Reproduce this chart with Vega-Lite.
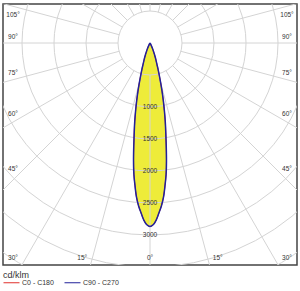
{
  "$schema": "https://vega.github.io/schema/vega-lite/v6.json",
  "width": 294,
  "height": 261,
  "autosize": {"type": "none"},
  "padding": {"left": 3, "top": 4, "right": 3, "bottom": 26},
  "background": "white",
  "config": {"view": {"stroke": "#444444", "strokeWidth": 1.5}, "font": "Liberation Sans"},
  "datasets": {
    "beam": [
      {"plane": "C0 - C180", "gamma": -90, "I": 0}, {"plane": "C0 - C180", "gamma": -60, "I": 0}, {"plane": "C0 - C180", "gamma": -40, "I": 0},
      {"plane": "C0 - C180", "gamma": -35, "I": 5}, {"plane": "C0 - C180", "gamma": -30, "I": 20}, {"plane": "C0 - C180", "gamma": -25, "I": 80},
      {"plane": "C0 - C180", "gamma": -24, "I": 106}, {"plane": "C0 - C180", "gamma": -23, "I": 134}, {"plane": "C0 - C180", "gamma": -22, "I": 162},
      {"plane": "C0 - C180", "gamma": -21, "I": 204}, {"plane": "C0 - C180", "gamma": -20, "I": 250}, {"plane": "C0 - C180", "gamma": -19, "I": 295},
      {"plane": "C0 - C180", "gamma": -18, "I": 351}, {"plane": "C0 - C180", "gamma": -17, "I": 435}, {"plane": "C0 - C180", "gamma": -16, "I": 529},
      {"plane": "C0 - C180", "gamma": -15, "I": 645}, {"plane": "C0 - C180", "gamma": -14, "I": 780}, {"plane": "C0 - C180", "gamma": -13, "I": 927},
      {"plane": "C0 - C180", "gamma": -12, "I": 1082}, {"plane": "C0 - C180", "gamma": -11, "I": 1250}, {"plane": "C0 - C180", "gamma": -10, "I": 1420},
      {"plane": "C0 - C180", "gamma": -9, "I": 1620}, {"plane": "C0 - C180", "gamma": -8, "I": 1849}, {"plane": "C0 - C180", "gamma": -7, "I": 2066},
      {"plane": "C0 - C180", "gamma": -6, "I": 2242}, {"plane": "C0 - C180", "gamma": -5, "I": 2419}, {"plane": "C0 - C180", "gamma": -4, "I": 2553},
      {"plane": "C0 - C180", "gamma": -3, "I": 2660}, {"plane": "C0 - C180", "gamma": -2, "I": 2769}, {"plane": "C0 - C180", "gamma": -1, "I": 2841},
      {"plane": "C0 - C180", "gamma": 0, "I": 2867},
      {"plane": "C0 - C180", "gamma": 1, "I": 2841}, {"plane": "C0 - C180", "gamma": 2, "I": 2769}, {"plane": "C0 - C180", "gamma": 3, "I": 2660},
      {"plane": "C0 - C180", "gamma": 4, "I": 2553}, {"plane": "C0 - C180", "gamma": 5, "I": 2419}, {"plane": "C0 - C180", "gamma": 6, "I": 2242},
      {"plane": "C0 - C180", "gamma": 7, "I": 2066}, {"plane": "C0 - C180", "gamma": 8, "I": 1849}, {"plane": "C0 - C180", "gamma": 9, "I": 1620},
      {"plane": "C0 - C180", "gamma": 10, "I": 1420}, {"plane": "C0 - C180", "gamma": 11, "I": 1250}, {"plane": "C0 - C180", "gamma": 12, "I": 1082},
      {"plane": "C0 - C180", "gamma": 13, "I": 927}, {"plane": "C0 - C180", "gamma": 14, "I": 780}, {"plane": "C0 - C180", "gamma": 15, "I": 645},
      {"plane": "C0 - C180", "gamma": 16, "I": 529}, {"plane": "C0 - C180", "gamma": 17, "I": 435}, {"plane": "C0 - C180", "gamma": 18, "I": 351},
      {"plane": "C0 - C180", "gamma": 19, "I": 295}, {"plane": "C0 - C180", "gamma": 20, "I": 250}, {"plane": "C0 - C180", "gamma": 21, "I": 204},
      {"plane": "C0 - C180", "gamma": 22, "I": 162}, {"plane": "C0 - C180", "gamma": 23, "I": 134}, {"plane": "C0 - C180", "gamma": 24, "I": 106},
      {"plane": "C0 - C180", "gamma": 25, "I": 80}, {"plane": "C0 - C180", "gamma": 30, "I": 20}, {"plane": "C0 - C180", "gamma": 35, "I": 5},
      {"plane": "C0 - C180", "gamma": 40, "I": 0}, {"plane": "C0 - C180", "gamma": 60, "I": 0}, {"plane": "C0 - C180", "gamma": 90, "I": 0},
      {"plane": "C90 - C270", "gamma": -90, "I": 0}, {"plane": "C90 - C270", "gamma": -60, "I": 0}, {"plane": "C90 - C270", "gamma": -40, "I": 0},
      {"plane": "C90 - C270", "gamma": -35, "I": 5}, {"plane": "C90 - C270", "gamma": -30, "I": 20}, {"plane": "C90 - C270", "gamma": -25, "I": 80},
      {"plane": "C90 - C270", "gamma": -24, "I": 106}, {"plane": "C90 - C270", "gamma": -23, "I": 134}, {"plane": "C90 - C270", "gamma": -22, "I": 162},
      {"plane": "C90 - C270", "gamma": -21, "I": 204}, {"plane": "C90 - C270", "gamma": -20, "I": 250}, {"plane": "C90 - C270", "gamma": -19, "I": 295},
      {"plane": "C90 - C270", "gamma": -18, "I": 351}, {"plane": "C90 - C270", "gamma": -17, "I": 435}, {"plane": "C90 - C270", "gamma": -16, "I": 529},
      {"plane": "C90 - C270", "gamma": -15, "I": 645}, {"plane": "C90 - C270", "gamma": -14, "I": 780}, {"plane": "C90 - C270", "gamma": -13, "I": 927},
      {"plane": "C90 - C270", "gamma": -12, "I": 1082}, {"plane": "C90 - C270", "gamma": -11, "I": 1250}, {"plane": "C90 - C270", "gamma": -10, "I": 1420},
      {"plane": "C90 - C270", "gamma": -9, "I": 1620}, {"plane": "C90 - C270", "gamma": -8, "I": 1849}, {"plane": "C90 - C270", "gamma": -7, "I": 2066},
      {"plane": "C90 - C270", "gamma": -6, "I": 2242}, {"plane": "C90 - C270", "gamma": -5, "I": 2419}, {"plane": "C90 - C270", "gamma": -4, "I": 2553},
      {"plane": "C90 - C270", "gamma": -3, "I": 2660}, {"plane": "C90 - C270", "gamma": -2, "I": 2769}, {"plane": "C90 - C270", "gamma": -1, "I": 2841},
      {"plane": "C90 - C270", "gamma": 0, "I": 2867},
      {"plane": "C90 - C270", "gamma": 1, "I": 2841}, {"plane": "C90 - C270", "gamma": 2, "I": 2769}, {"plane": "C90 - C270", "gamma": 3, "I": 2660},
      {"plane": "C90 - C270", "gamma": 4, "I": 2553}, {"plane": "C90 - C270", "gamma": 5, "I": 2419}, {"plane": "C90 - C270", "gamma": 6, "I": 2242},
      {"plane": "C90 - C270", "gamma": 7, "I": 2066}, {"plane": "C90 - C270", "gamma": 8, "I": 1849}, {"plane": "C90 - C270", "gamma": 9, "I": 1620},
      {"plane": "C90 - C270", "gamma": 10, "I": 1420}, {"plane": "C90 - C270", "gamma": 11, "I": 1250}, {"plane": "C90 - C270", "gamma": 12, "I": 1082},
      {"plane": "C90 - C270", "gamma": 13, "I": 927}, {"plane": "C90 - C270", "gamma": 14, "I": 780}, {"plane": "C90 - C270", "gamma": 15, "I": 645},
      {"plane": "C90 - C270", "gamma": 16, "I": 529}, {"plane": "C90 - C270", "gamma": 17, "I": 435}, {"plane": "C90 - C270", "gamma": 18, "I": 351},
      {"plane": "C90 - C270", "gamma": 19, "I": 295}, {"plane": "C90 - C270", "gamma": 20, "I": 250}, {"plane": "C90 - C270", "gamma": 21, "I": 204},
      {"plane": "C90 - C270", "gamma": 22, "I": 162}, {"plane": "C90 - C270", "gamma": 23, "I": 134}, {"plane": "C90 - C270", "gamma": 24, "I": 106},
      {"plane": "C90 - C270", "gamma": 25, "I": 80}, {"plane": "C90 - C270", "gamma": 30, "I": 20}, {"plane": "C90 - C270", "gamma": 35, "I": 5},
      {"plane": "C90 - C270", "gamma": 40, "I": 0}, {"plane": "C90 - C270", "gamma": 60, "I": 0}, {"plane": "C90 - C270", "gamma": 90, "I": 0}
    ],
    "circles": [{"r": 500}, {"r": 1000}, {"r": 1500}, {"r": 2000}, {"r": 2500}, {"r": 3000}, {"r": 3500}, {"r": 4000}],
    "spokes": [{"a": 0}, {"a": 15}, {"a": 30}, {"a": 45}, {"a": 60}, {"a": 75}, {"a": 90}, {"a": 105}, {"a": 120}, {"a": 135}, {"a": 150}, {"a": 165},
      {"a": 180}, {"a": 195}, {"a": 210}, {"a": 225}, {"a": 240}, {"a": 255}, {"a": 270}, {"a": 285}, {"a": 300}, {"a": 315}, {"a": 330}, {"a": 345}],
    "rlabels": [{"r": 1000}, {"r": 1500}, {"r": 2000}, {"r": 2500}, {"r": 3000}],
    "alabels": [
      {"a": 0, "s": 0, "label": "0°"},
      {"a": 15, "s": -1, "label": "15°"}, {"a": 15, "s": 1, "label": "15°"},
      {"a": 30, "s": -1, "label": "30°"}, {"a": 30, "s": 1, "label": "30°"},
      {"a": 45, "s": -1, "label": "45°"}, {"a": 45, "s": 1, "label": "45°"},
      {"a": 60, "s": -1, "label": "60°"}, {"a": 60, "s": 1, "label": "60°"},
      {"a": 75, "s": -1, "label": "75°"}, {"a": 75, "s": 1, "label": "75°"},
      {"a": 90, "s": -1, "label": "90°"}, {"a": 90, "s": 1, "label": "90°"},
      {"a": 105, "s": -1, "label": "105°"}, {"a": 105, "s": 1, "label": "105°"}
    ]
  },
  "layer": [
    {
      "data": {"name": "beam"},
      "transform": [
        {"filter": "datum.plane === 'C90 - C270' && datum.gamma >= 0"},
        {"calculate": "datum.I * sin(datum.gamma * PI / 180)", "as": "x"},
        {"calculate": "-datum.x", "as": "xn"},
        {"calculate": "-datum.I * cos(datum.gamma * PI / 180)", "as": "y"}
      ],
      "mark": {"type": "area", "orient": "horizontal", "color": "#eeec3a", "opacity": 1, "interpolate": "monotone"},
      "encoding": {
        "x": {"field": "x", "type": "quantitative", "scale": {"domain": [-2296.875, 2296.875], "nice": false, "zero": false}, "axis": null},
        "x2": {"field": "xn"},
        "y": {"field": "y", "type": "quantitative", "scale": {"domain": [-3468.75, 609.375], "nice": false, "zero": false}, "axis": null}
      }
    },
    {
      "data": {"name": "circles"},
      "transform": [{"calculate": "0", "as": "cx"}, {"calculate": "0", "as": "cy"}],
      "mark": {"type": "point", "shape": "circle", "filled": false, "stroke": "#d4d4d4", "strokeWidth": 1, "opacity": 1, "clip": true},
      "encoding": {
        "x": {"field": "cx", "type": "quantitative", "scale": {"domain": [-2296.875, 2296.875], "nice": false, "zero": false}, "axis": null},
        "y": {"field": "cy", "type": "quantitative", "scale": {"domain": [-3468.75, 609.375], "nice": false, "zero": false}, "axis": null},
        "size": {"field": "r", "type": "quantitative", "scale": {"type": "pow", "exponent": 2, "domain": [0, 4000], "range": [0, 262144], "zero": true}, "legend": null}
      }
    },
    {
      "data": {"name": "spokes"},
      "transform": [
        {"calculate": "500 * sin(datum.a * PI / 180)", "as": "x1"},
        {"calculate": "-500 * cos(datum.a * PI / 180)", "as": "y1"},
        {"calculate": "6000 * sin(datum.a * PI / 180)", "as": "x2"},
        {"calculate": "-6000 * cos(datum.a * PI / 180)", "as": "y2"}
      ],
      "mark": {"type": "rule", "color": "#d4d4d4", "strokeWidth": 1, "clip": true},
      "encoding": {
        "x": {"field": "x1", "type": "quantitative", "scale": {"domain": [-2296.875, 2296.875], "nice": false, "zero": false}, "axis": null},
        "y": {"field": "y1", "type": "quantitative", "scale": {"domain": [-3468.75, 609.375], "nice": false, "zero": false}, "axis": null},
        "x2": {"field": "x2"},
        "y2": {"field": "y2"}
      }
    },
    {
      "data": {"name": "beam"},
      "transform": [
        {"filter": "datum.plane === 'C0 - C180'"},
        {"calculate": "datum.I * sin(datum.gamma * PI / 180)", "as": "x"},
        {"calculate": "-datum.I * cos(datum.gamma * PI / 180)", "as": "y"}
      ],
      "mark": {"type": "line", "strokeWidth": 1, "interpolate": "catmull-rom"},
      "encoding": {
        "x": {"field": "x", "type": "quantitative", "scale": {"domain": [-2296.875, 2296.875], "nice": false, "zero": false}, "axis": null},
        "y": {"field": "y", "type": "quantitative", "scale": {"domain": [-3468.75, 609.375], "nice": false, "zero": false}, "axis": null},
        "order": {"field": "gamma", "type": "quantitative"},
        "color": {"field": "plane", "type": "nominal",
          "scale": {"domain": ["C0 - C180", "C90 - C270"], "range": ["#e0302c", "#22229a"]},
          "legend": {"title": "cd/klm", "orient": "bottom", "direction": "horizontal", "offset": 6, "padding": 0,
            "titleFontSize": 9, "titleFontWeight": "normal", "titleColor": "#333333", "titlePadding": -6, "titleFont": "Liberation Sans",
            "labelFontSize": 7, "labelColor": "#333333", "labelFont": "Liberation Sans", "labelOffset": 2, "columnPadding": 8,
            "symbolType": "stroke", "symbolSize": 256, "symbolStrokeWidth": 1}}
      }
    },
    {
      "data": {"name": "beam"},
      "transform": [
        {"filter": "datum.plane === 'C90 - C270'"},
        {"calculate": "datum.I * sin(datum.gamma * PI / 180)", "as": "x"},
        {"calculate": "-datum.I * cos(datum.gamma * PI / 180)", "as": "y"}
      ],
      "mark": {"type": "line", "strokeWidth": 1.5, "interpolate": "catmull-rom"},
      "encoding": {
        "x": {"field": "x", "type": "quantitative", "scale": {"domain": [-2296.875, 2296.875], "nice": false, "zero": false}, "axis": null},
        "y": {"field": "y", "type": "quantitative", "scale": {"domain": [-3468.75, 609.375], "nice": false, "zero": false}, "axis": null},
        "order": {"field": "gamma", "type": "quantitative"},
        "color": {"field": "plane", "type": "nominal",
          "scale": {"domain": ["C0 - C180", "C90 - C270"], "range": ["#e0302c", "#22229a"]}}
      }
    },
    {
      "data": {"name": "rlabels"},
      "transform": [{"calculate": "0", "as": "x"}, {"calculate": "-datum.r", "as": "y"}, {"calculate": "'' + datum.r", "as": "t"}],
      "mark": {"type": "text", "align": "center", "baseline": "middle", "fontSize": 6.5, "color": "#333333", "font": "Liberation Sans"},
      "encoding": {
        "x": {"field": "x", "type": "quantitative", "scale": {"domain": [-2296.875, 2296.875], "nice": false, "zero": false}, "axis": null},
        "y": {"field": "y", "type": "quantitative", "scale": {"domain": [-3468.75, 609.375], "nice": false, "zero": false}, "axis": null},
        "text": {"field": "t"}
      }
    },
    {
      "data": {"name": "alabels"},
      "transform": [
        {"calculate": "(datum.a + 2.5) * PI / 180", "as": "phi"},
        {"calculate": "min(2140.6 / max(abs(sin(datum.phi)), 0.000001), cos(datum.phi) > 0 ? 3359.375 / cos(datum.phi) : 1e9)", "as": "t"},
        {"calculate": "datum.s * sin(datum.phi) * datum.t", "as": "lx"},
        {"calculate": "-clamp(cos(datum.phi) * datum.t, -437.5, 3359.375)", "as": "ly"}
      ],
      "mark": {"type": "text", "align": "center", "baseline": "middle", "fontSize": 6.5, "color": "#333333", "font": "Liberation Sans"},
      "encoding": {
        "x": {"field": "lx", "type": "quantitative", "scale": {"domain": [-2296.875, 2296.875], "nice": false, "zero": false}, "axis": null},
        "y": {"field": "ly", "type": "quantitative", "scale": {"domain": [-3468.75, 609.375], "nice": false, "zero": false}, "axis": null},
        "text": {"field": "label"}
      }
    }
  ]
}
